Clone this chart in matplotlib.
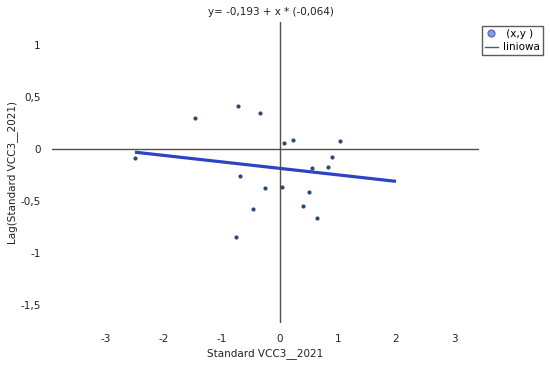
import matplotlib
matplotlib.use('Agg')
import matplotlib.pyplot as plt
from matplotlib.lines import Line2D

# scatter points (x = Standard VCC3__2021, y = lag)
x_vals = [-2.50, -1.47, -0.73, -0.34, 0.07, 0.23, 1.04, 0.90, 0.82, 0.55,
          -0.69, -0.26, 0.03, 0.50, 0.39, -0.46, 0.64, -0.75]
y_vals = [-0.09, 0.30, 0.41, 0.35, 0.06, 0.09, 0.08, -0.08, -0.17, -0.18,
          -0.26, -0.37, -0.36, -0.41, -0.55, -0.58, -0.66, -0.84]

# regression line end points
line_x = [-2.50, 2.00]
line_y = [-0.03, -0.31]

x_ticks = [-3, -2, -1, 0, 1, 2, 3]
x_tick_labels = ['-3', '-2', '-1', '0', '1', '2', '3']
y_ticks = [1, 0.5, 0, -0.5, -1, -1.5]
y_tick_labels = ['1', '0,5', '0', '-0,5', '-1', '-1,5']

title = 'y= -0,193 + x * (-0,064)'

plt.rcParams['font.family'] = ['DejaVu Sans']

fig = plt.figure(figsize=(5.5, 3.65), dpi=100)
ax = fig.add_axes([52 / 550, 1 - 323 / 365, (479 - 52) / 550, (323 - 22) / 365])

ax.set_xlim(-3.93, 3.43)
ax.set_ylim(-1.67, 1.22)

for s in ax.spines.values():
    s.set_visible(False)

ax.axhline(0, color='#505050', lw=1.0, zorder=1)
ax.axvline(0, color='#505050', lw=1.0, zorder=1)

ax.plot(line_x, line_y, color='#2b44c2', lw=2.3, solid_capstyle='butt', zorder=2)
ax.plot(x_vals, y_vals, 'o', color='#2e4a70', ms=3.0, mew=0, zorder=3)

ax.set_xticks(x_ticks)
ax.set_xticklabels(x_tick_labels)
ax.set_yticks(y_ticks)
ax.set_yticklabels(y_tick_labels)
ax.tick_params(length=0, labelsize=7.5, colors='#222222', pad=8)

ax.set_xlabel('Standard VCC3__2021', fontsize=7.5, color='#222222', labelpad=3)
ax.set_ylabel('Lag(Standard VCC3__2021)', fontsize=7.5, color='#222222', labelpad=2)
fig.text(271 / 550, 1 - 12 / 365, title, ha='center', va='center',
         fontsize=7.5, color='#222222')

handles = [
    Line2D([], [], marker='o', ls='none', ms=5, mfc='#8a9ae8', mec='#4a5fb0', mew=0.8),
    Line2D([], [], color='#35628a', lw=1.0),
]
fig.legend(handles, [' (x,y )', 'liniowa'], loc='upper left',
           bbox_to_anchor=(482 / 550, 1 - 26 / 365), fontsize=7.5,
           frameon=True, fancybox=False, edgecolor='#333333',
           handlelength=1.2, handletextpad=0.5, borderpad=0.3,
           labelspacing=0.3, borderaxespad=0)

fig.savefig('out.png', dpi=100)
